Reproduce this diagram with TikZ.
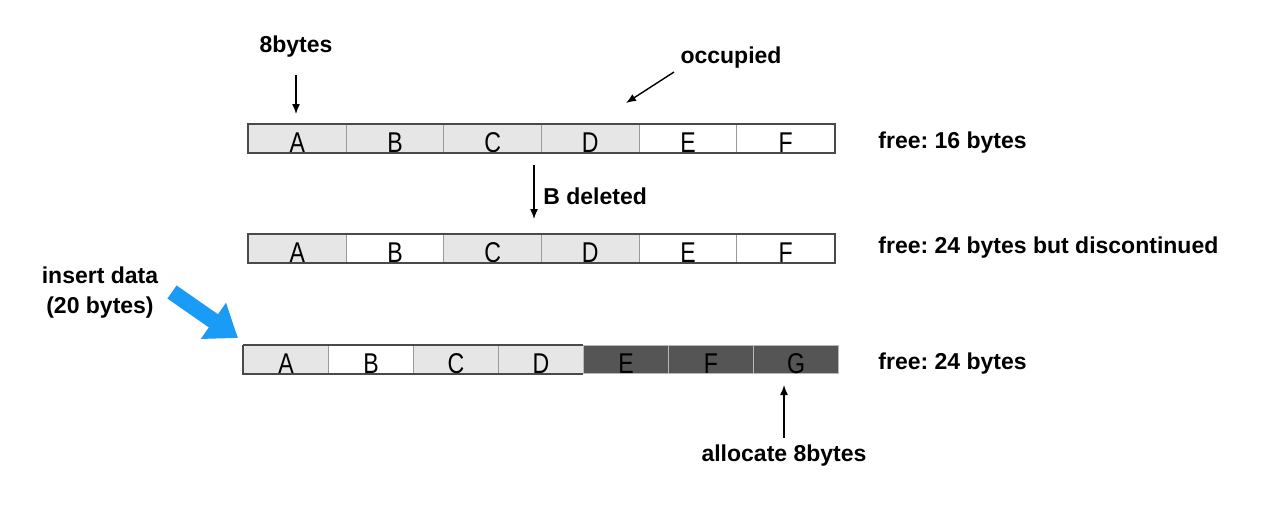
\documentclass[tikz,border=0pt]{standalone}
\usepackage{fontspec}
\setmainfont{Liberation Sans}
\frenchspacing
\usetikzlibrary{arrows.meta}
\definecolor{cellgray}{HTML}{E6E6E6}
\definecolor{darkcell}{HTML}{555555}
\definecolor{sepgray}{HTML}{9A9A9A}
\definecolor{outline}{HTML}{4A4A4A}
\definecolor{bluearrow}{HTML}{1A9BF5}
\newcommand{\cl}[1]{\scalebox{1.05}[1.3]{#1}}
\tikzset{
  cellbox/.style={draw=sepgray, line width=0.5pt, minimum height=14pt, text height=14pt, text depth=0pt,
    inner sep=0pt, anchor=north west, font=\fontsize{11}{13}\selectfont},
  wide/.style={minimum width=48.83pt},
  narrow/.style={minimum width=42.5pt},
  occ/.style={fill=cellgray},
  freec/.style={fill=white},
  newc/.style={fill=darkcell, draw=sepgray!70},
  lab/.style={font=\bfseries\fontsize{11.5}{15}\selectfont, inner sep=0pt},
  thinarrow/.style={line width=0.7pt, -{Latex[length=5pt,width=4pt]}},
}
\begin{document}
\begin{tikzpicture}[x=0.5pt,y=-0.5pt]
\useasboundingbox (0,0) rectangle (1262,509);
% row 1
\node[cellbox,wide,occ] (r1a) at (248,124) {\cl{A}};
\node[cellbox,wide,occ] (r1b) at (345.67,124) {\cl{B}};
\node[cellbox,wide,occ] (r1c) at (443.33,124) {\cl{C}};
\node[cellbox,wide,occ] (r1d) at (541,124) {\cl{D}};
\node[cellbox,wide,freec] (r1e) at (638.67,124) {\cl{E}};
\node[cellbox,wide,freec] (r1f) at (736.33,124) {\cl{F}};
\draw[outline, line width=0.6pt] (r1a.north west) rectangle (r1f.south east);
% row 2
\node[cellbox,wide,occ] (r2a) at (248,234) {\cl{A}};
\node[cellbox,wide,freec] (r2b) at (345.67,234) {\cl{B}};
\node[cellbox,wide,occ] (r2c) at (443.33,234) {\cl{C}};
\node[cellbox,wide,occ] (r2d) at (541,234) {\cl{D}};
\node[cellbox,wide,freec] (r2e) at (638.67,234) {\cl{E}};
\node[cellbox,wide,freec] (r2f) at (736.33,234) {\cl{F}};
\draw[outline, line width=0.6pt] (r2a.north west) rectangle (r2f.south east);
% row 3
\node[cellbox,narrow,occ] (r3a) at (243,345) {\cl{A}};
\node[cellbox,narrow,freec] (r3b) at (328,345) {\cl{B}};
\node[cellbox,narrow,occ] (r3c) at (413,345) {\cl{C}};
\node[cellbox,narrow,occ] (r3d) at (498,345) {\cl{D}};
\node[cellbox,narrow,newc] (r3e) at (583,345) {\cl{E}};
\node[cellbox,narrow,newc] (r3f) at (668,345) {\cl{F}};
\node[cellbox,narrow,newc] (r3g) at (753,345) {\cl{G}};
\draw[outline, line width=0.6pt] (r3a.north west) -- (r3e.north west) (r3a.north west) -- (r3a.south west) -- (r3e.south west);
% labels
\node[lab] (l8) at (296,47) {8bytes};
\node[lab] (locc) at (731,58) {occupied};
\node[lab, anchor=west] (lf16) at (878,143) {free: 16 bytes};
\node[lab, anchor=west] (lbd) at (543,196) {B deleted};
\node[lab, anchor=west] (lf24d) at (878,248) {free: 24 bytes but discontinued};
\node[lab, align=center] (lins) at (100,293) {insert data\\(20 bytes)};
\node[lab, anchor=west] (lf24) at (878,364) {free: 24 bytes};
\node[lab] (lalloc) at (784,456) {allocate 8bytes};
% arrows
\coordinate (a8s) at (296,75);
\coordinate (a8e) at (296,114);
\draw[thinarrow] (a8s) -- (a8e);
\coordinate (aos) at (674,72);
\coordinate (aoe) at (626,103);
\draw[thinarrow] (aos) -- (aoe);
\coordinate (abs) at (534,165);
\coordinate (abe) at (534,219);
\draw[thinarrow] (abs) -- (abe);
\coordinate (aas) at (784,438);
\coordinate (aae) at (784,385);
\draw[thinarrow] (aas) -- (aae);
\coordinate (bls) at (172,292);
\coordinate (ble) at (238,338);
\draw[bluearrow, line width=8pt, -{Triangle[length=15pt,width=21pt]}] (bls) -- (ble);
\end{tikzpicture}
\end{document}
